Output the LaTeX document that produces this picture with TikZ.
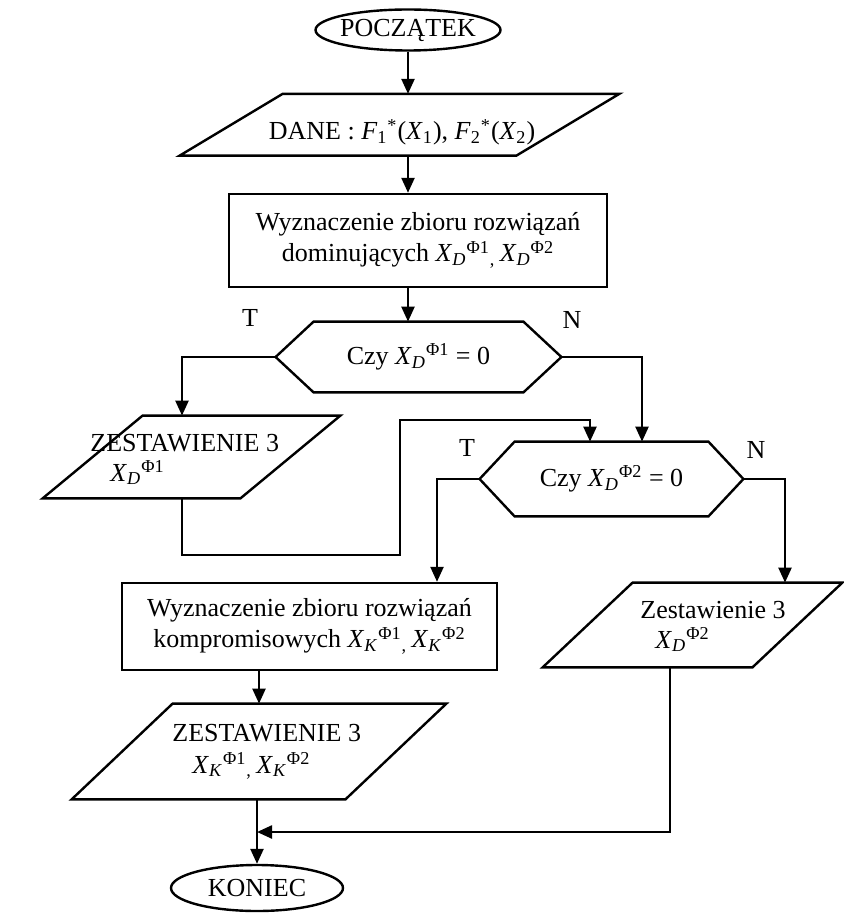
\documentclass[tikz,border=0pt]{standalone}
\usepackage{fontspec}
\setmainfont{Liberation Serif}
\usetikzlibrary{shapes.geometric,arrows.meta,calc}

% X with subscript #1 and superscript #2, set one after the other
\newcommand\Xs[2]{\textit{X}\textsubscript{\textit{#1}}\textsuperscript{#2}}
\newcommand\lowcomma{\textsubscript{,}}
% parallelogram drawn round a frame node: #2 = half the horizontal slant
\newcommand\paraoutline[2]{\draw[line] ($(#1.south west)+(-#2,0)$) -- ($(#1.north west)+(#2,0)$) -- ($(#1.north east)+(#2,0)$) -- ($(#1.south east)+(-#2,0)$) -- cycle;}
% flat hexagon drawn round a frame node: #2 = chamfer width
\newcommand\hexoutline[2]{\draw[line] (#1.west) -- ($(#1.north west)+(#2,0)$) -- ($(#1.north east)+(-#2,0)$) -- (#1.east) -- ($(#1.south east)+(-#2,0)$) -- ($(#1.south west)+(#2,0)$) -- cycle;}

\begin{document}
\begin{tikzpicture}[x=0.5pt,y=-0.5pt,
  every node/.style={font=\fontsize{13}{15.5}\selectfont},
  line/.style={line width=1.2pt},
  arr/.style={line width=1.2pt,-{Triangle[length=7.5pt,width=6.5pt]}},
  term/.style={ellipse,draw,line width=1.2pt,inner sep=0pt},
  box/.style={rectangle,draw,line width=1.2pt,align=center,inner sep=0pt},
  frame/.style={rectangle,inner sep=0pt},
  txt/.style={inner sep=0pt,anchor=base west},
  lab/.style={inner sep=0pt}]
\useasboundingbox (0,0) rectangle (844,919);

% start / input
\node[term,minimum width=92.5pt,minimum height=20.5pt] (start) at (408,30) {\makebox[0pt]{POCZĄTEK}};
\node[frame,minimum width=168pt,minimum height=30.5pt] (dane) at (399.5,124.75) {};
\paraoutline{dane}{51.5}
\node[lab,anchor=base] (danetxt) at (402,140) {DANE : \textit{F}\textsubscript{1}\textsuperscript{*}(\textit{X}\textsubscript{1}), \textit{F}\textsubscript{2}\textsuperscript{*}(\textit{X}\textsubscript{2})};

% dominating set
\node[box,minimum width=189pt,minimum height=46.5pt] (r1) at (418,240.5)
  {Wyznaczenie zbioru rozwiązań\\dominujących \Xs{D}{Φ1}\lowcomma\,\Xs{D}{Φ2}};

% first decision
\node[frame,minimum width=142.5pt,minimum height=35pt] (h1) at (418.5,357) {Czy \Xs{D}{Φ1} = 0};
\hexoutline{h1}{38}
\node[lab] (t1) at (250,318) {T};
\node[lab] (n1) at (572,320) {N};

% left output
\node[frame,minimum width=98.5pt,minimum height=41pt] (z1) at (191.5,457) {};
\paraoutline{z1}{50}
\node[txt] (z1a) at (90,451) {ZESTAWIENIE 3};
\node[txt] (z1b) at (110,481) {\Xs{D}{Φ1}};

% second decision
\node[frame,minimum width=131.5pt,minimum height=37pt] (h2) at (611.5,479) {Czy \Xs{D}{Φ2} = 0};
\hexoutline{h2}{35}
\node[lab] (t2) at (467,448) {T};
\node[lab] (n2) at (756,450) {N};

% compromise set
\node[box,minimum width=187.5pt,minimum height=43.5pt] (r2) at (309.5,626.5)
  {Wyznaczenie zbioru rozwiązań\\kompromisowych \Xs{K}{Φ1}\lowcomma\,\Xs{K}{Φ2}};

% right output
\node[frame,minimum width=104.5pt,minimum height=42pt] (z3) at (692.5,625) {};
\paraoutline{z3}{45}
\node[txt] (z3a) at (640,618) {Zestawienie 3};
\node[txt] (z3b) at (655,648) {\Xs{D}{Φ2}};

% bottom output
\node[frame,minimum width=136.5pt,minimum height=47.5pt] (z2) at (259,751.5) {};
\paraoutline{z2}{50.5}
\node[txt] (z2a) at (172,741) {ZESTAWIENIE 3};
\node[txt] (z2b) at (192,773) {\Xs{K}{Φ1}\lowcomma\,\Xs{K}{Φ2}};

% end
\node[term,minimum width=86pt,minimum height=23pt] (stop) at (257,888) {\makebox[0pt]{KONIEC}};

% connectors
\coordinate (loopA) at (400,555);
\coordinate (loopB) at (400,420);
\coordinate (join) at (257,832);
\draw[arr] (start.south) -- (start.south |- dane.north);
\draw[arr] (start.south |- dane.south) -- (start.south |- r1.north);
\draw[arr] (start.south |- r1.south) -- (start.south |- h1.north);
\draw[arr] (h1.west) -| ($(z1.north)+(-9.5,0)$);
\draw[arr] (h1.east) -| ($(h2.north)+(30.5,0)$);
\draw[arr] ($(z1.south)+(-9.5,0)$) |- (loopA) -- (loopB) -| ($(h2.north)+(-21.5,0)$);
\draw[arr] (h2.west) -| ($(r2.north)+(127.5,0)$);
\draw[arr] (h2.east) -| ($(z3.north)+(92.5,0)$);
\draw[arr] (r2.south -| z2.north) -- (z2.north);
\draw[arr] (stop.north |- z2.south) -- (stop.north);
\draw[arr] ($(z3.south)+(-22.5,0)$) |- (join);
\end{tikzpicture}
\end{document}
